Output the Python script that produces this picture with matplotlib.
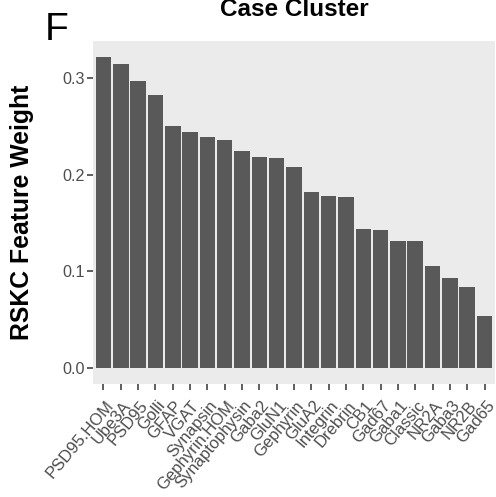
import matplotlib
matplotlib.use('Agg')
import matplotlib.pyplot as plt
import matplotlib.transforms as mtransforms

plt.rcParams['font.family'] = ['Liberation Sans', 'DejaVu Sans']

features = ['PSD95.HOM', 'Ube3A', 'PSD95', 'Golli', 'GFAP', 'VGAT', 'Synapsin',
            'Gephyrin.HOM', 'Synaptophysin', 'Gaba2', 'GluN1', 'Gephyrin', 'GluA2',
            'Integrin', 'Drebrin', 'CB1', 'Gad67', 'Gaba1', 'Classic', 'NR2A',
            'Gaba3', 'NR2B', 'Gad65']
weights = [0.3226, 0.315, 0.297, 0.283, 0.251, 0.244, 0.239, 0.2365, 0.225,
           0.2185, 0.218, 0.2085, 0.182, 0.178, 0.177, 0.144, 0.1424, 0.132,
           0.1313, 0.106, 0.093, 0.0834, 0.0535]
yticks = [0.0, 0.1, 0.2, 0.3]

fig = plt.figure(figsize=(4.96, 4.97), dpi=100)
ax = fig.add_axes([93 / 496, 1 - 383.5 / 497, 402 / 496, 342.5 / 497])
ax.set_facecolor('#EBEBEB')

x = list(range(len(features)))
ax.bar(x, weights, width=0.9, color='#595959', edgecolor='none')

n = len(features)
ax.set_xlim(-0.6, n - 1 + 0.6)
top = max(weights)
ax.set_ylim(-0.05 * top, 1.05 * top)

for s in ax.spines.values():
    s.set_visible(False)

ax.set_yticks(yticks)
ax.set_yticklabels(['%.1f' % v for v in yticks], fontsize=11.6, color='#4D4D4D')
ax.set_xticks(x)
ax.set_xticklabels(features, fontsize=12, color='#4D4D4D')
ax.tick_params(axis='both', length=4, width=1.1, color='#333333', pad=2)

# ggplot-style rotated labels sit a bit right of and below the tick
offset = mtransforms.ScaledTranslation(7 / 100, -11 / 100, fig.dpi_scale_trans)
for lab in ax.get_xticklabels():
    lab.set_rotation(50)
    lab.set_ha('right')
    lab.set_va('center')
    lab.set_rotation_mode('anchor')
    lab.set_transform(lab.get_transform() + offset)

ax.set_ylabel('RSKC Feature Weight', fontsize=17.8, fontweight='bold')
ax.yaxis.set_label_coords(-0.147, 0.5)

fig.text(294 / 496, 1 - 16 / 497, 'Case Cluster', fontsize=17.5, fontweight='bold',
         ha='center', va='baseline')
fig.text(45 / 496, 1 - 40 / 497, 'F', fontsize=28, ha='left', va='baseline')

fig.savefig('out.png', dpi=100)
